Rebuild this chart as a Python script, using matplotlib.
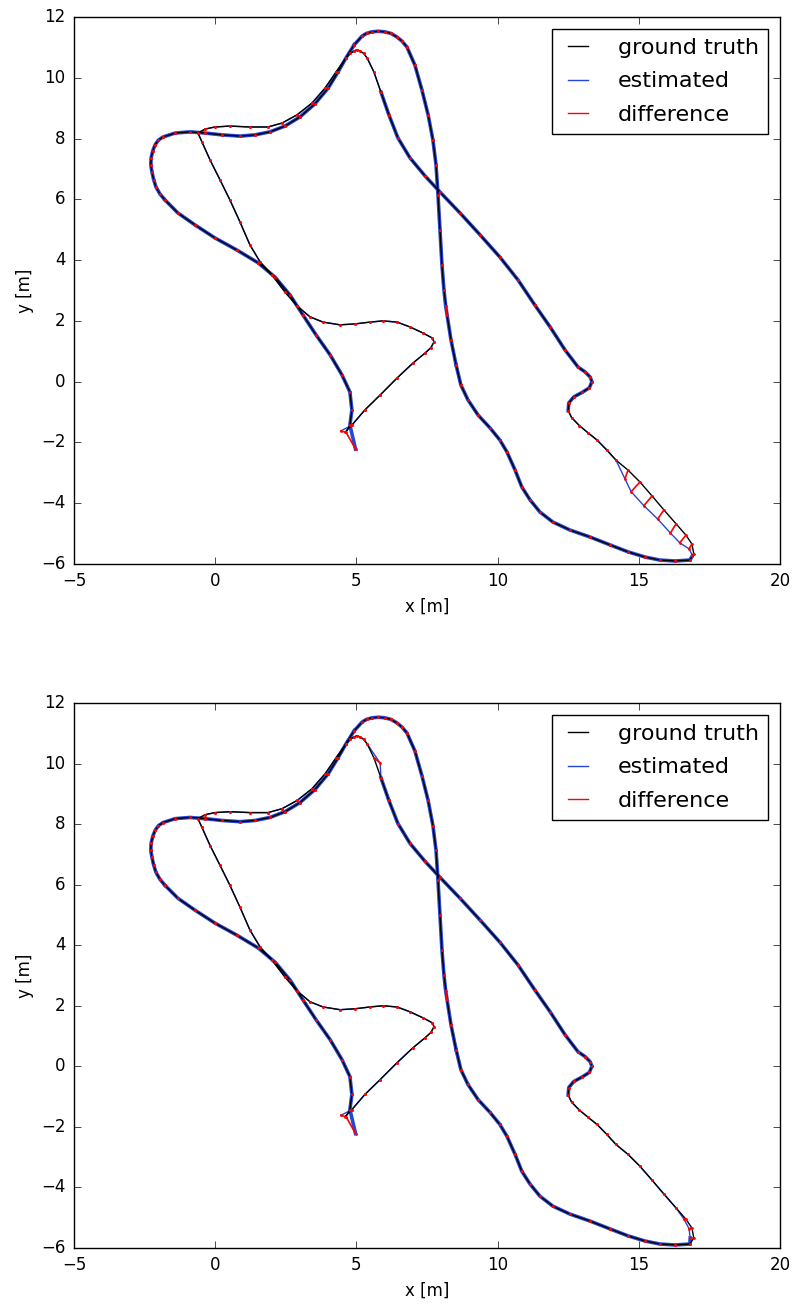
"""Trajectory comparison, two panels: ground truth vs. estimated path with
per-sample difference segments drawn in red."""
import matplotlib
matplotlib.use("Agg")
import matplotlib.pyplot as plt
from matplotlib.lines import Line2D
import numpy as np

plt.style.use("classic")

START_TO_TIP = [(4.60, -1.66), (4.84, -1.43), (5.30, -0.93), (5.84, -0.44), (6.44, 0.12),
                (7.00, 0.61), (7.43, 0.94), (7.64, 1.12), (7.75, 1.31)]
TIP_BACK = [(7.68, 1.44), (7.36, 1.60), (6.90, 1.80), (6.44, 1.96), (5.94, 2.00), (5.48, 1.96),
            (4.95, 1.90), (4.42, 1.87), (3.82, 1.96), (3.36, 2.13), (2.90, 2.49)]
INNER_CLIMB = [(2.47, 2.95), (2.01, 3.51), (1.59, 3.94), (1.23, 4.50), (0.88, 5.25), (0.52, 5.98),
               (0.17, 6.64), (-0.18, 7.29), (-0.47, 7.89), (-0.61, 8.18)]
UPPER_LEDGE = [(-0.36, 8.31), (-0.01, 8.38), (0.52, 8.41), (1.23, 8.38), (1.87, 8.38), (2.37, 8.51),
               (2.90, 8.78), (3.43, 9.17), (3.89, 9.66), (4.28, 10.19), (4.63, 10.65), (4.78, 10.80),
               (4.92, 10.88), (5.02, 10.92), (5.13, 10.88), (5.26, 10.80), (5.38, 10.65),
               (5.62, 10.19), (5.87, 9.53)]
DIAGONAL = [(6.15, 8.78), (6.47, 8.02), (6.90, 7.36), (7.43, 6.77), (7.96, 6.24), (8.67, 5.55),
            (9.38, 4.83), (10.08, 4.10), (10.72, 3.35), (11.32, 2.52), (11.86, 1.80), (12.39, 1.04),
            (12.85, 0.48), (13.10, 0.32), (13.28, 0.15), (13.34, 0.00), (13.25, -0.20),
            (13.00, -0.35), (12.70, -0.50), (12.52, -0.70), (12.50, -0.95)]
KINK = [(12.62, -1.18), (12.90, -1.45), (13.20, -1.68), (13.52, -1.92), (13.86, -2.24)]
CORNER_GT = [(14.19, -2.58), (14.62, -2.91), (15.04, -3.30), (15.47, -3.76), (15.89, -4.22),
             (16.32, -4.68), (16.67, -5.05), (16.88, -5.34), (16.95, -5.67)]
BOTTOM_RUN = [(16.81, -5.87), (16.28, -5.90), (15.75, -5.87), (15.22, -5.77), (14.62, -5.60),
              (13.98, -5.37), (13.27, -5.11), (12.56, -4.88), (11.96, -4.62), (11.50, -4.29),
              (11.15, -3.89), (10.86, -3.47), (10.62, -2.91), (10.33, -2.31), (10.08, -1.92),
              (9.73, -1.52), (9.31, -1.10), (8.95, -0.60), (8.70, -0.11), (8.53, 0.55)]
VERTICAL = [(8.35, 1.37), (8.21, 2.19), (8.10, 3.02), (8.03, 3.84), (7.96, 4.99), (7.89, 6.14),
            (7.82, 7.13), (7.71, 7.95), (7.54, 8.78), (7.32, 9.60), (7.07, 10.42), (6.79, 11.01),
            (6.62, 11.20), (6.44, 11.34), (6.22, 11.46), (6.01, 11.51), (5.78, 11.53),
            (5.55, 11.51), (5.36, 11.46), (5.20, 11.37), (4.92, 11.08)]
LOWER_LEDGE = [(4.63, 10.65), (4.35, 10.19), (4.00, 9.66), (3.53, 9.14), (3.00, 8.71), (2.47, 8.41),
               (1.94, 8.22), (1.41, 8.12), (0.88, 8.08), (0.24, 8.12), (-0.36, 8.18), (-0.89, 8.22),
               (-1.42, 8.18), (-1.85, 8.05), (-2.01, 7.95), (-2.13, 7.79), (-2.21, 7.60),
               (-2.27, 7.36), (-2.28, 7.13), (-2.24, 6.90), (-2.18, 6.65), (-2.10, 6.41),
               (-1.96, 6.18), (-1.78, 5.98)]
OUTER_DESCENT = [(-1.32, 5.55), (-0.72, 5.16), (-0.01, 4.73), (0.77, 4.33), (1.52, 3.91),
                 (2.12, 3.44), (2.65, 2.85), (3.11, 2.19), (3.57, 1.54), (4.07, 0.88), (4.49, 0.22),
                 (4.77, -0.34), (4.84, -0.93), (4.77, -1.43), (4.63, -1.66)]

# estimated positions where they visibly leave the ground truth
CORNER_EST_TOP = [(14.19, -2.58), (14.51, -3.20), (14.73, -3.62), (15.18, -4.08), (15.67, -4.52),
                  (16.12, -4.98), (16.45, -5.30), (16.78, -5.50), (16.90, -5.72)]
CORNER_EST_BOTTOM = [(14.19, -2.58), (14.62, -2.91), (15.04, -3.30), (15.47, -3.76), (15.89, -4.22),
                     (16.32, -4.68), (16.60, -5.05), (16.78, -5.36), (16.82, -5.67)]
EST_START = (4.45, -1.62)
EST_END = (4.97, -2.22)
EST_VERTICAL_GLITCH = (8.16, 2.50)
EST_DESCENT_JUMP = (5.84, 10.02)

SEGMENTS = [START_TO_TIP, TIP_BACK, INNER_CLIMB, UPPER_LEDGE, DIAGONAL, KINK, CORNER_GT,
            BOTTOM_RUN, VERTICAL, LOWER_LEDGE, OUTER_DESCENT]
# segments driven on the shared outer loop render as a wider blue band
WIDE = [False, False, False, False, True, False, False, True, True, True, True]

LABELS = ["ground truth", "estimated", "difference"]
EST_BLUE = "#2646d6"


def build_paths():
    gt = [p for seg in SEGMENTS for p in seg]
    corner_start = sum(len(s) for s in SEGMENTS[:6])
    glitch = gt.index((8.21, 2.19))
    jump = gt.index((5.62, 10.19))

    est_top = list(gt)
    est_top[corner_start:corner_start + len(CORNER_GT)] = CORNER_EST_TOP
    est_top[0] = EST_START
    est_top[-1] = EST_END
    est_top[glitch] = EST_VERTICAL_GLITCH

    est_bot = list(gt)
    est_bot[corner_start:corner_start + len(CORNER_GT)] = CORNER_EST_BOTTOM
    est_bot[0] = EST_START
    est_bot[-1] = EST_END
    est_bot[glitch] = EST_VERTICAL_GLITCH
    est_bot[jump] = EST_DESCENT_JUMP
    return np.array(gt), np.array(est_top), np.array(est_bot)


def draw_panel(ax, gt, est):
    # estimated path: thin everywhere, wider on the shared outer loop
    ax.plot(est[:, 0], est[:, 1], color=EST_BLUE, lw=1.0, zorder=2)
    start = 0
    for seg, wide in zip(SEGMENTS, WIDE):
        stop = start + len(seg)
        if wide:
            lo = max(start - 1, 0)
            ax.plot(est[lo:stop, 0], est[lo:stop, 1], color=EST_BLUE, lw=2.6, zorder=2,
                    solid_joinstyle="round")
        start = stop
    ax.plot(gt[:, 0], gt[:, 1], color="k", lw=1.0, zorder=3, solid_joinstyle="round")

    # one red segment per sample, gt -> est
    nan = np.full(len(gt), np.nan)
    dx = np.column_stack([gt[:, 0], est[:, 0], nan]).ravel()
    dy = np.column_stack([gt[:, 1], est[:, 1], nan]).ravel()
    ax.plot(dx, dy, color="r", lw=1.2, marker="o", ms=2.0, mew=0, zorder=4)

    ax.set_xlim(-5, 20)
    ax.set_ylim(-6, 12)
    ax.set_xticks(np.arange(-5, 21, 5))
    ax.set_yticks(np.arange(-6, 13, 2))
    ax.set_xlabel("x [m]", fontsize=12)
    ax.set_ylabel("y [m]", fontsize=12)
    ax.tick_params(direction="in", top=True, right=True, length=5, labelsize=12, pad=6)

    handles = [Line2D([], [], color="k", lw=1.0),
               Line2D([], [], color=EST_BLUE, lw=1.0),
               Line2D([], [], color="r", lw=1.0)]
    leg = ax.legend(handles, LABELS, loc="upper right", fontsize=16, fancybox=False,
                    handlelength=1.5, handletextpad=1.05, borderpad=0.4, labelspacing=0.6,
                    borderaxespad=0.55)
    leg.get_frame().set_edgecolor("k")
    leg.get_frame().set_linewidth(1.0)


def main():
    gt, est_top, est_bot = build_paths()
    fig = plt.figure(figsize=(7.95, 13.05), dpi=100, facecolor="white")
    ax_top = fig.add_axes([0.0931, 0.5678, 0.888, 0.4192])
    ax_bot = fig.add_axes([0.0931, 0.0437, 0.888, 0.4176])
    draw_panel(ax_top, gt, est_top)
    draw_panel(ax_bot, gt, est_bot)
    fig.savefig("out.png", dpi=100, facecolor="white")


if __name__ == "__main__":
    main()
